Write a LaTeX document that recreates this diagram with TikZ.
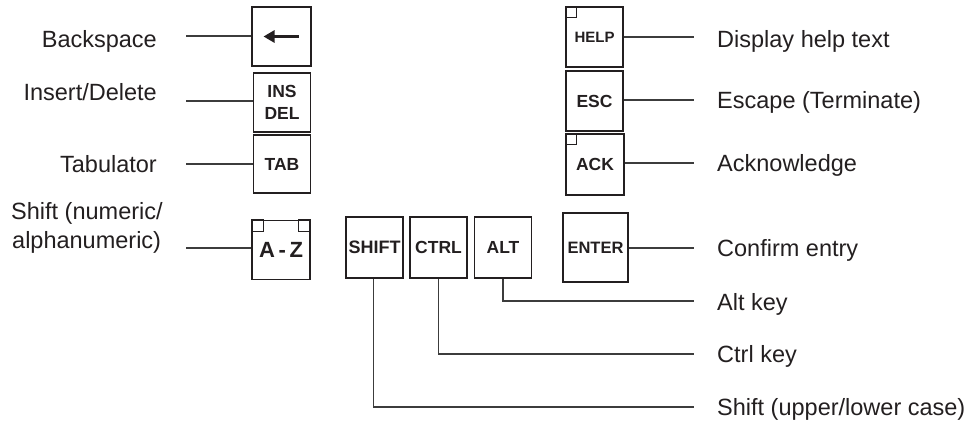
\documentclass[tikz,border=0pt]{standalone}
\usepackage{fontspec}
\setmainfont{Liberation Sans}
\usetikzlibrary{arrows.meta}
\definecolor{ink}{HTML}{231F20}
\definecolor{wire}{HTML}{3C3C3C}
\tikzset{
  keybox/.style={draw=ink, line width=1.7pt, minimum width=57pt, minimum height=59pt, inner sep=0pt,
    text=ink, font=\bfseries\fontsize{17.5}{22}\selectfont, align=center},
  lbl/.style={inner sep=0pt, text=ink, font=\fontsize{23.5}{29}\selectfont},
  wireline/.style={draw=wire, line width=1.2pt},
  corner/.style={draw=ink, line width=1.2pt}
}
\begin{document}
\begin{tikzpicture}[x=1pt,y=-1pt]
\useasboundingbox (0,0) rectangle (974,424);
% keys
\node[keybox, minimum width=59pt] (bs) at (281.5,36.5) {};
\node[keybox] (ins) at (282,102.5) {INS\\DEL};
\node[keybox, minimum height=58pt] (tab) at (282,164) {TAB};
\node[keybox, minimum width=58pt, font=\bfseries\fontsize{22}{24}\selectfont] (az) at (281,250) {A\,-\,Z};
\node[keybox, minimum height=61pt, font=\bfseries\fontsize{18}{22}\selectfont] (shift) at (374.5,247.5) {SHIFT};
\node[keybox, minimum height=61pt] (ctrl) at (438.5,247.5) {CTRL};
\node[keybox, minimum height=61pt] (alt) at (503,247.5) {ALT};
\node[keybox, minimum width=65pt, minimum height=69pt, font=\bfseries\fontsize{16.5}{22}\selectfont] (enter) at (595.5,247.5) {ENTER};
\node[keybox, minimum height=60pt, font=\bfseries\fontsize{15}{22}\selectfont] (help) at (594.5,37) {HELP};
\node[keybox, minimum height=60pt] (esc) at (594.5,101) {ESC};
\node[keybox, minimum width=58pt, minimum height=61pt] (ack) at (595,164.5) {ACK};
% corner marks
\draw[corner] (help.north west) rectangle ++(11,11);
\draw[corner] (ack.north west) rectangle ++(11,11);
\draw[corner] (az.north west) rectangle ++(12,12);
\draw[corner] (az.north east) rectangle ++(-12,12);
% backspace arrow
\draw[ink, line width=3.5pt, -{Triangle[length=11pt,width=12pt]}] ([xshift=17pt]bs.center) -- ([xshift=-18pt]bs.center);
% left labels
\node[lbl, anchor=base east] (lbs) at (157,47) {Backspace};
\node[lbl, anchor=base east] (lins) at (157,100) {Insert/Delete};
\node[lbl, anchor=base east] (ltab) at (157,172) {Tabulator};
\node[lbl, anchor=base west] (laz1) at (11,219) {Shift (numeric/};
\node[lbl, anchor=base west] (laz2) at (12,248) {alphanumeric)};
% left wire ends
\coordinate (cbs) at (186,36);
\coordinate (cins) at (186,101);
\coordinate (ctab) at (186,164);
\coordinate (caz) at (186,248);
\draw[wireline] (cbs) -- (cbs -| bs.west);
\draw[wireline] (cins) -- (cins -| ins.west);
\draw[wireline] (ctab) -- (ctab -| tab.west);
\draw[wireline] (caz) -- (caz -| az.west);
% right labels
\node[lbl, anchor=base west] (lhelp) at (717,47) {Display help text};
\node[lbl, anchor=base west] (lesc) at (717,108) {Escape (Terminate)};
\node[lbl, anchor=base west] (lack) at (717,171) {Acknowledge};
\node[lbl, anchor=base west] (lenter) at (717,256) {Confirm entry};
\node[lbl, anchor=base west] (lalt) at (717,310) {Alt key};
\node[lbl, anchor=base west] (lctrl) at (717,362) {Ctrl key};
\node[lbl, anchor=base west] (lshift) at (717,415) {Shift (upper/lower case)};
% right wire ends
\coordinate (chelp) at (694,37);
\coordinate (cesc) at (694,100);
\coordinate (cack) at (694,163);
\coordinate (center) at (694,248);
\coordinate (calt) at (694,301);
\coordinate (cctrl) at (694,354);
\coordinate (cshift) at (694,407);
\draw[wireline] (chelp -| help.east) -- (chelp);
\draw[wireline] (cesc -| esc.east) -- (cesc);
\draw[wireline] (cack -| ack.east) -- (cack);
\draw[wireline] (center -| enter.east) -- (center);
\draw[wireline] ([xshift=-1pt]shift.south) |- (cshift);
\draw[wireline] (ctrl.south) |- (cctrl);
\draw[wireline] (alt.south) |- (calt);
\end{tikzpicture}
\end{document}
